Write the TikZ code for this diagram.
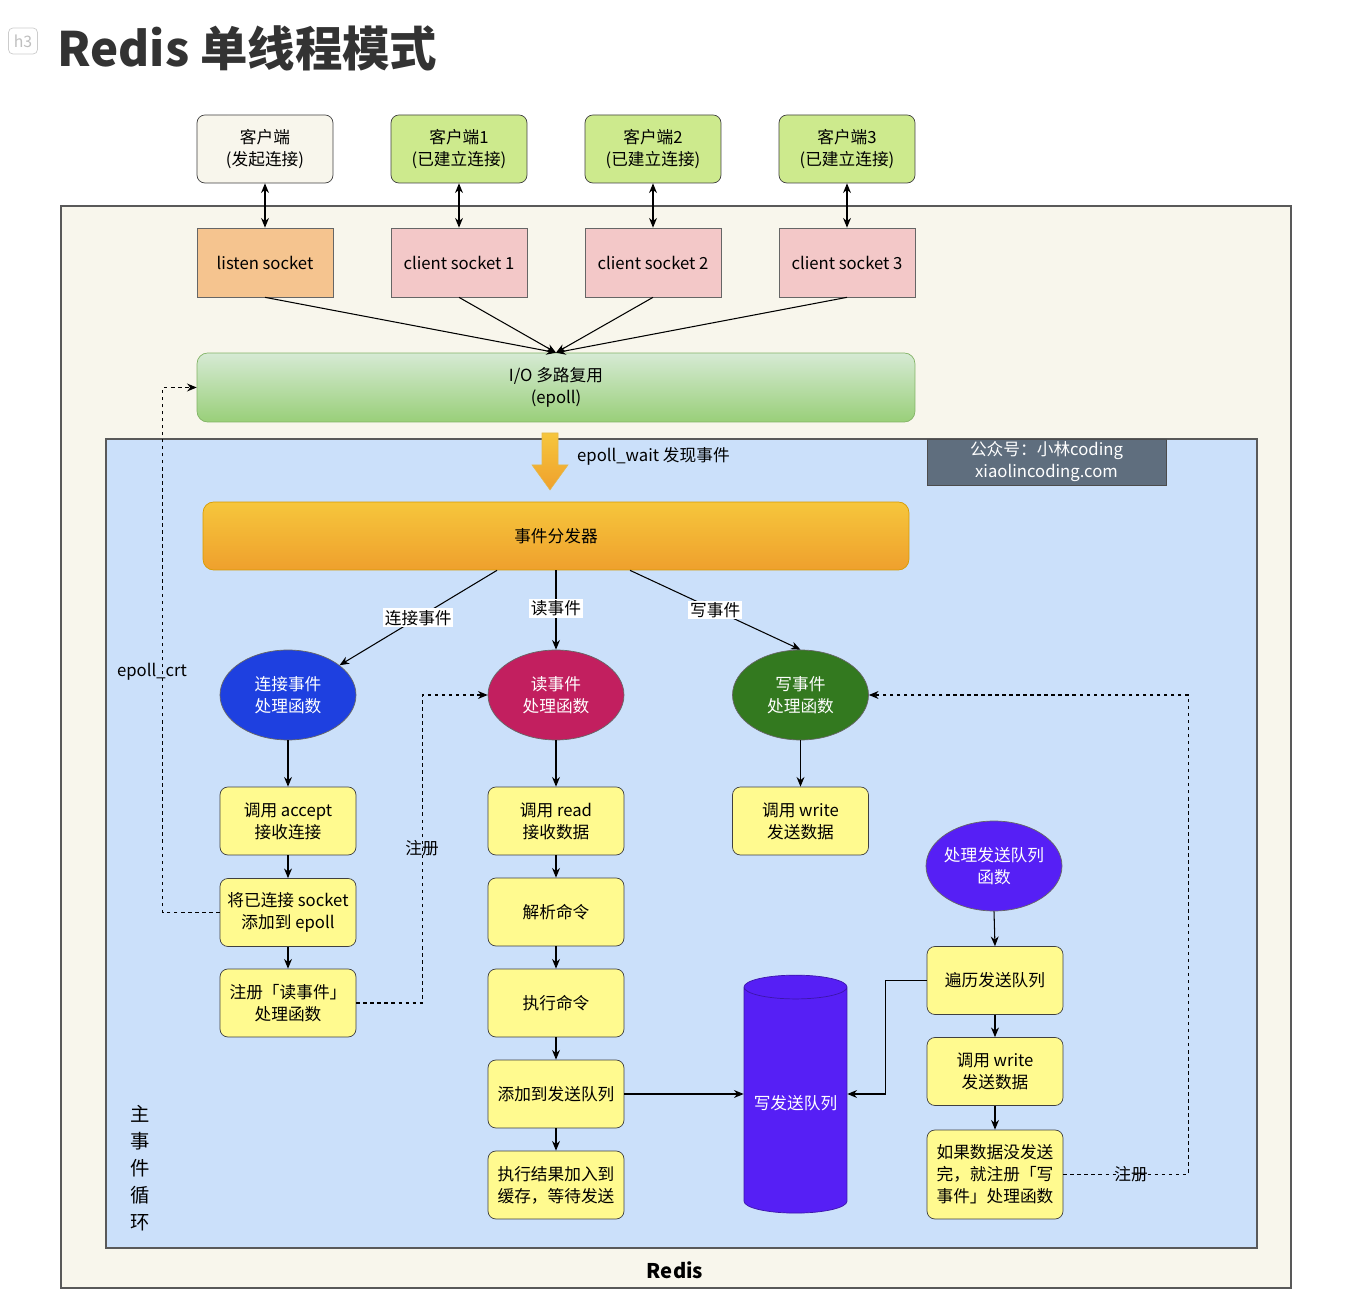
\documentclass[tikz,border=0pt]{standalone}
\usepackage{fontspec}
\setmainfont{Noto Sans CJK SC}
\usetikzlibrary{shapes.geometric,arrows.meta,calc}

\definecolor{creambg}{HTML}{F8F6EC}
\definecolor{bluebg}{HTML}{CBE0FA}
\definecolor{clientgreen}{HTML}{CDEA8D}
\definecolor{listenorange}{HTML}{F5C48F}
\definecolor{sockpink}{HTML}{F3C8C8}
\definecolor{stepyellow}{HTML}{FFFA8F}
\definecolor{epolltop}{HTML}{D6EAD4}
\definecolor{epollbot}{HTML}{99CF79}
\definecolor{epollline}{HTML}{82B366}
\definecolor{disptop}{HTML}{F6C63C}
\definecolor{dispbot}{HTML}{EFA02D}
\definecolor{displine}{HTML}{D79B00}
\definecolor{connblue}{HTML}{1E40E0}
\definecolor{readred}{HTML}{C21F5F}
\definecolor{writegreen}{HTML}{33791F}
\definecolor{queuepurple}{HTML}{561FF5}
\definecolor{markgray}{HTML}{5F6E7E}
\definecolor{titlegray}{HTML}{333333}

\tikzset{
  every node/.style={font=\fontsize{9.5}{12.5}\selectfont},
  client/.style={draw=black!75, rounded corners=4.5pt, minimum width=2.72cm, minimum height=1.36cm, align=center, inner sep=1pt},
  sock/.style={draw=black!60, minimum width=2.72cm, minimum height=1.38cm, align=center},
  stepbox/.style={draw=black!75, fill=stepyellow, rounded corners=4.5pt, minimum width=2.72cm, minimum height=1.36cm, align=center, inner sep=1pt},
  handler/.style={ellipse, draw=black!60, text=white, minimum width=2.72cm, minimum height=1.8cm, align=center, inner sep=0pt},
  arr/.style={-{Stealth[length=5.5pt,width=4.5pt]}, line width=0.6pt},
  dbl/.style={{Stealth[length=5.5pt,width=4.5pt]}-{Stealth[length=5.5pt,width=4.5pt]}, line width=0.6pt},
  dashline/.style={line width=0.6pt, dash pattern=on 2pt off 2pt},
  evlabel/.style={fill=white, inner sep=1pt}
}

\begin{document}
\begin{tikzpicture}[x=0.02cm, y=-0.02cm]
\useasboundingbox (0,0) rectangle (1350,1310);
\fill[white] (0,0) rectangle (1350,1310);

% title
\node[draw=black!20, rounded corners=2.5pt, text=black!25, minimum width=0.58cm, minimum height=0.52cm, inner sep=0pt, font=\fontsize{9}{10}\selectfont] (badge) at (23,41) {h3};
\node[anchor=west, text=titlegray, font=\fontsize{27}{32}\selectfont\bfseries, inner sep=0pt] (title) at (57,48) {Redis 单线程模式};

% backgrounds
\draw[black!65, fill=creambg, line width=0.8pt] (61,206) rectangle (1291,1288);
\draw[black!65, fill=bluebg, line width=0.8pt] (106,439) rectangle (1257,1248);

% clients and sockets
\node[client, fill=creambg] (c0) at (265,149) {客户端\\(发起连接)};
\node[client, fill=clientgreen] (c1) at (459,149) {客户端1\\(已建立连接)};
\node[client, fill=clientgreen] (c2) at (653,149) {客户端2\\(已建立连接)};
\node[client, fill=clientgreen] (c3) at (847,149) {客户端3\\(已建立连接)};

\node[sock, fill=listenorange] (s0) at (265,262.5) {listen socket};
\node[sock, fill=sockpink] (s1) at (459,262.5) {client socket 1};
\node[sock, fill=sockpink] (s2) at (653,262.5) {client socket 2};
\node[sock, fill=sockpink] (s3) at (847,262.5) {client socket 3};

\foreach \i in {0,1,2,3}
  \draw[dbl] (c\i.south) -- (s\i.north);

\node[draw=epollline, rounded corners=6pt, top color=epolltop, bottom color=epollbot, minimum width=14.36cm, minimum height=1.38cm, align=center] (epoll) at (556,387.5) {I/O 多路复用\\(epoll)};

\foreach \i in {0,1,2,3}
  \draw[arr] (s\i.south) -- (epoll.north);

% epoll_wait
\path[top color=disptop, bottom color=dispbot, draw=displine!70, line width=0.3pt]
  (542,433) -- (558,433) -- (558,465) -- (568,465) -- (550,490) -- (532,465) -- (542,465) -- cycle;
\node[anchor=west] (waitlbl) at (571,456) {epoll\_wait 发现事件};

\node[draw=black!70, fill=markgray, text=white, minimum width=4.78cm, minimum height=0.92cm, align=center, inner sep=0pt] (mark) at (1046.5,462) {公众号：小林coding\\xiaolincoding.com};

\node[draw=displine, rounded corners=6pt, top color=disptop, bottom color=dispbot, minimum width=14.12cm, minimum height=1.36cm] (disp) at (556,536) {事件分发器};

% handlers
\node[handler, fill=connblue] (conn) at (288,695) {连接事件\\处理函数};
\node[handler, fill=readred] (rd) at (556,695) {读事件\\处理函数};
\node[handler, fill=writegreen] (wr) at (800.5,695) {写事件\\处理函数};
\node[handler, fill=queuepurple, inner xsep=-4pt] (qh) at (994,866) {处理发送队列\\函数};

\draw[arr] ($(disp.south)+(-59,0)$) -- (conn.30) node[pos=0.5, evlabel] {连接事件};
\draw[arr] (disp.south) -- (rd.north) node[pos=0.48, evlabel] {读事件};
\draw[arr] ($(disp.south)+(74,0)$) -- (wr.north) node[pos=0.5, evlabel] {写事件};

% connection column
\node[stepbox] (accept) at (288,821) {调用 accept\\接收连接};
\node[stepbox] (place) at (288,912.5) {将已连接 socket\\添加到 epoll};
\node[stepbox] (reg) at (288,1003) {注册「读事件」\\处理函数};

% read column
\node[stepbox] (read) at (556,821) {调用 read\\接收数据};
\node[stepbox] (parse) at (556,912) {解析命令};
\node[stepbox] (exec) at (556,1003) {执行命令};
\node[stepbox] (add) at (556,1094) {添加到发送队列};
\node[stepbox] (cache) at (556,1185) {执行结果加入到\\缓存，等待发送};

% write column
\node[stepbox] (write) at (800.5,821) {调用 write\\发送数据};

% send queue
\node[cylinder, shape border rotate=90, aspect=0.25, draw=queuepurple!70!black, fill=queuepurple, text=white, minimum height=4.76cm, minimum width=2.06cm] (queue) at (795.5,1103) {写发送队列};

\node[stepbox] (trav) at (995,980.5) {遍历发送队列};
\node[stepbox] (write2) at (995,1071.5) {调用 write\\发送数据};
\node[stepbox, minimum height=1.78cm] (ifnot) at (995,1174.5) {如果数据没发送\\完，就注册「写\\事件」处理函数};

\draw[arr] (conn.south) -- (accept.north);
\draw[arr] (accept.south) -- (place.north);
\draw[arr] (place.south) -- (reg.north);
\draw[arr] (rd.south) -- (read.north);
\draw[arr] (read.south) -- (parse.north);
\draw[arr] (parse.south) -- (exec.north);
\draw[arr] (exec.south) -- (add.north);
\draw[arr] (add.south) -- (cache.north);
\draw[arr] (wr.south) -- (write.north);
\draw[arr] (qh.south) -- (trav.north);
\draw[arr] (trav.south) -- (write2.north);
\draw[arr] (write2.south) -- (ifnot.north);
\draw[arr] (add.east) -- (add.east -| queue.west);
\draw[arr] (trav.west) -- ++(-41,0) |- (add.east -| queue.east);

% dashed feedback
\draw[arr, dashline] (place.west) -- ++(-57,0) |- (epoll.west);
\node (crt) at (152,672) {epoll\_crt};
\draw[arr, dashline] (reg.east) -- ++(66,0) |- (rd.west);
\node (reglbl) at (422,848) {注册};
\draw[arr, dashline] (ifnot.east) -- ++(125,0) |- (wr.east);
\node (reglbl2) at (1131,1174) {注册};

% labels
\node[align=center, font=\fontsize{11}{15.3}\selectfont] (loop) at (140,1168) {主\\事\\件\\循\\环};
\node[font=\fontsize{11.5}{14}\selectfont\bfseries] (redis) at (675,1270) {Redis};
\end{tikzpicture}
\end{document}
